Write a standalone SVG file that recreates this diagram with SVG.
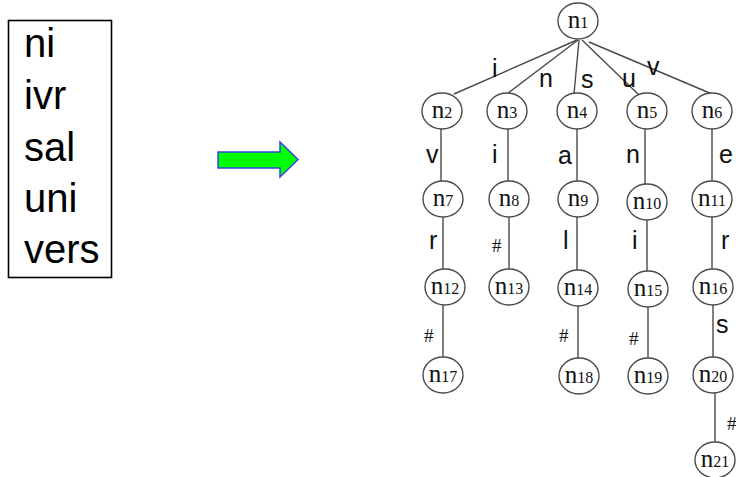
<svg xmlns="http://www.w3.org/2000/svg" width="736" height="477" viewBox="0 0 736 477">
<style>
.node ellipse{fill:#fff;stroke:#4a4a4a;stroke-width:1.4}
.nl{font-family:"Liberation Serif","Times New Roman",serif;font-size:25px;fill:#111;text-anchor:middle}
.nl tspan.d{font-size:16px}
.edge{stroke:#4a4a4a;stroke-width:1.4;fill:none}
.el{font-family:"Liberation Sans",Arial,sans-serif;font-size:25px;fill:#111}
.hash{font-family:"Liberation Serif","Times New Roman",serif;font-size:19px;fill:#111}
.word{font-family:"Liberation Sans",Arial,sans-serif;font-size:40px;fill:#000}
</style>
<rect width="736" height="477" fill="#fff"/>
<g id="wordlist">
<rect x="8.5" y="20.5" width="103" height="257" fill="#fff" stroke="#000" stroke-width="1.6"/>
<text class="word" x="24" y="57">ni</text>
<text class="word" x="24" y="109">ivr</text>
<text class="word" x="24" y="161">sal</text>
<text class="word" x="24" y="212">uni</text>
<text class="word" x="24" y="263">vers</text>
</g>
<g id="arrow">
<polygon points="218,152 280,152 280,142 298,159.5 280,177 280,168 218,168" fill="#00ff00" stroke="#3344dd" stroke-width="1.5"/>
</g>
<g id="connectors">
<line class="edge" x1="577" y1="40" x2="454" y2="94"/>
<line class="edge" x1="578" y1="40" x2="507" y2="94"/>
<line class="edge" x1="579" y1="40" x2="574" y2="94"/>
<line class="edge" x1="582" y1="40" x2="638" y2="94"/>
<line class="edge" x1="589" y1="42" x2="712" y2="94"/>
<line class="edge" x1="441" y1="129" x2="441" y2="181"/>
<line class="edge" x1="508" y1="129" x2="508" y2="181"/>
<line class="edge" x1="577" y1="129" x2="577" y2="181"/>
<line class="edge" x1="645" y1="129" x2="645" y2="184"/>
<line class="edge" x1="712" y1="129" x2="712" y2="181"/>
<line class="edge" x1="443" y1="217" x2="443" y2="269"/>
<line class="edge" x1="509" y1="217" x2="509" y2="269"/>
<line class="edge" x1="577" y1="217" x2="577" y2="270"/>
<line class="edge" x1="647" y1="220" x2="647" y2="271"/>
<line class="edge" x1="712" y1="217" x2="712" y2="269"/>
<line class="edge" x1="443" y1="305" x2="443" y2="357"/>
<line class="edge" x1="578" y1="306" x2="578" y2="358"/>
<line class="edge" x1="648" y1="307" x2="648" y2="358"/>
<line class="edge" x1="713" y1="305" x2="713" y2="357"/>
<line class="edge" x1="715" y1="393" x2="715" y2="442"/>
<text class="el" x="492" y="77">i</text>
<text class="el" x="539" y="87">n</text>
<text class="el" x="581" y="88">s</text>
<text class="el" x="622" y="87">u</text>
<text class="el" x="647" y="75">v</text>
<text class="el" x="426" y="163">v</text>
<text class="el" x="492" y="163">i</text>
<text class="el" x="558" y="164">a</text>
<text class="el" x="626" y="163">n</text>
<text class="el" x="719" y="163">e</text>
<text class="el" x="429" y="249">r</text>
<text class="hash" x="492" y="252">#</text>
<text class="el" x="563" y="249">l</text>
<text class="el" x="632" y="249">i</text>
<text class="el" x="721" y="249">r</text>
<text class="hash" x="424" y="342">#</text>
<text class="hash" x="559" y="342">#</text>
<text class="hash" x="629" y="345">#</text>
<text class="el" x="716" y="333">s</text>
<text class="hash" x="727" y="430">#</text>
</g>
<g id="n1" class="node"><ellipse cx="578" cy="21" rx="20" ry="18"/><text class="nl" x="578" y="28">n<tspan class="d">1</tspan></text></g>
<g id="n2" class="node"><ellipse cx="442" cy="111" rx="20" ry="18"/><text class="nl" x="442" y="118">n<tspan class="d">2</tspan></text></g>
<g id="n3" class="node"><ellipse cx="507" cy="111" rx="20" ry="18"/><text class="nl" x="507" y="118">n<tspan class="d">3</tspan></text></g>
<g id="n4" class="node"><ellipse cx="577" cy="111" rx="20" ry="18"/><text class="nl" x="577" y="118">n<tspan class="d">4</tspan></text></g>
<g id="n5" class="node"><ellipse cx="647" cy="111" rx="20" ry="18"/><text class="nl" x="647" y="118">n<tspan class="d">5</tspan></text></g>
<g id="n6" class="node"><ellipse cx="712" cy="111" rx="20" ry="18"/><text class="nl" x="712" y="118">n<tspan class="d">6</tspan></text></g>
<g id="n7" class="node"><ellipse cx="443" cy="199" rx="20" ry="18"/><text class="nl" x="443" y="206">n<tspan class="d">7</tspan></text></g>
<g id="n8" class="node"><ellipse cx="509" cy="199" rx="20" ry="18"/><text class="nl" x="509" y="206">n<tspan class="d">8</tspan></text></g>
<g id="n9" class="node"><ellipse cx="578" cy="199" rx="20" ry="18"/><text class="nl" x="578" y="206">n<tspan class="d">9</tspan></text></g>
<g id="n10" class="node"><ellipse cx="647" cy="202" rx="20" ry="18"/><text class="nl" x="647" y="209">n<tspan class="d">10</tspan></text></g>
<g id="n11" class="node"><ellipse cx="712" cy="199" rx="20" ry="18"/><text class="nl" x="712" y="206">n<tspan class="d">11</tspan></text></g>
<g id="n12" class="node"><ellipse cx="445" cy="287" rx="20" ry="18"/><text class="nl" x="445" y="294">n<tspan class="d">12</tspan></text></g>
<g id="n13" class="node"><ellipse cx="509" cy="287" rx="20" ry="18"/><text class="nl" x="509" y="294">n<tspan class="d">13</tspan></text></g>
<g id="n14" class="node"><ellipse cx="578" cy="288" rx="20" ry="18"/><text class="nl" x="578" y="295">n<tspan class="d">14</tspan></text></g>
<g id="n15" class="node"><ellipse cx="648" cy="289" rx="20" ry="18"/><text class="nl" x="648" y="296">n<tspan class="d">15</tspan></text></g>
<g id="n16" class="node"><ellipse cx="713" cy="287" rx="20" ry="18"/><text class="nl" x="713" y="294">n<tspan class="d">16</tspan></text></g>
<g id="n17" class="node"><ellipse cx="443" cy="375" rx="20" ry="18"/><text class="nl" x="443" y="382">n<tspan class="d">17</tspan></text></g>
<g id="n18" class="node"><ellipse cx="579" cy="376" rx="20" ry="18"/><text class="nl" x="579" y="383">n<tspan class="d">18</tspan></text></g>
<g id="n19" class="node"><ellipse cx="648" cy="376" rx="20" ry="18"/><text class="nl" x="648" y="383">n<tspan class="d">19</tspan></text></g>
<g id="n20" class="node"><ellipse cx="713" cy="375" rx="20" ry="18"/><text class="nl" x="713" y="382">n<tspan class="d">20</tspan></text></g>
<g id="n21" class="node"><ellipse cx="715" cy="460" rx="20" ry="18"/><text class="nl" x="715" y="467">n<tspan class="d">21</tspan></text></g>
</svg>
